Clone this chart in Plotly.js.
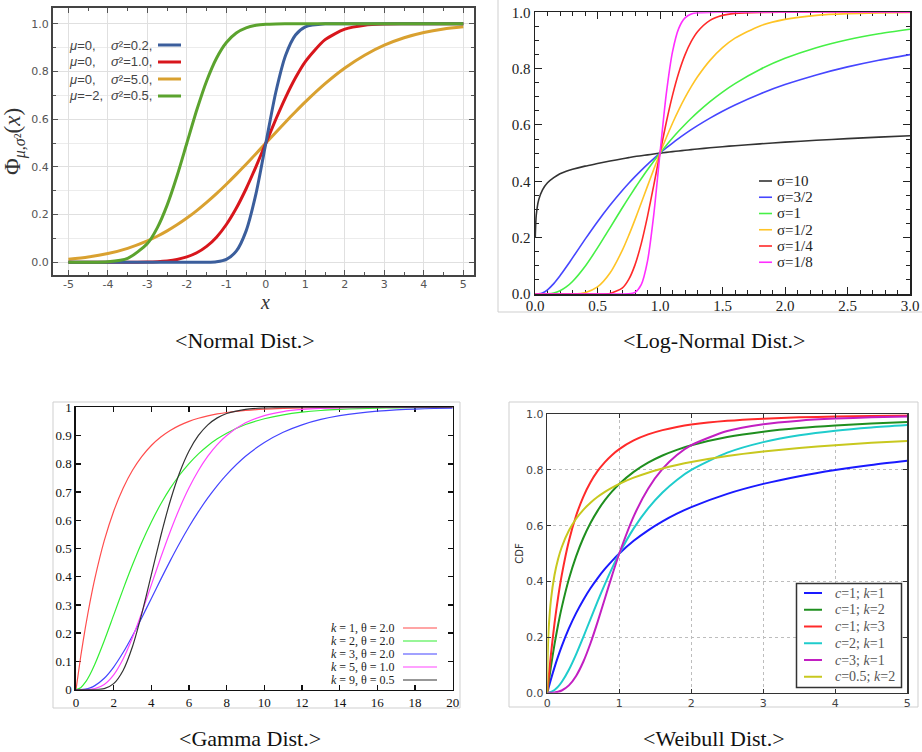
<!DOCTYPE html>
<html>
<head>
<meta charset="utf-8">
<script src="https://cdn.plot.ly/plotly-3.0.1.min.js"></script>
<style>html,body{margin:0;padding:0;background:#fff;}#chart{width:922px;height:752px;}</style>
</head>
<body>
<div id="chart"></div>
<script>
// ---------- Normal distribution CDF ----------
const normX = [-5,-4.5,-4,-3.5,-3,-2.75,-2.5,-2.25,-2,-1.75,-1.5,-1.25,-1,-0.75,-0.5,-0.25,0,0.25,0.5,0.75,1,1.5,2,2.5,3,3.5,4,4.5,5];
const normBlue   = [0,0,0,0,0,0,0,0,0,0,0.0004,0.0026,0.0127,0.0468,0.132,0.288,0.5,0.712,0.868,0.953,0.987,0.9996,1,1,1,1,1,1,1];
const normRed    = [0,0,0,0.0002,0.0013,0.003,0.0062,0.0122,0.0228,0.0401,0.0668,0.1056,0.1587,0.2266,0.3085,0.4013,0.5,0.5987,0.6915,0.7734,0.8413,0.9332,0.9772,0.9938,0.9987,0.9998,1,1,1];
const normOrange = [0.0127,0.0221,0.0368,0.0588,0.0899,0.1093,0.1318,0.1572,0.1855,0.2169,0.2512,0.288,0.3274,0.3687,0.4115,0.4555,0.5,0.5445,0.5885,0.6313,0.6726,0.7488,0.8145,0.8682,0.9101,0.9412,0.9632,0.9779,0.9873];
const normGreen  = [0,0.0002,0.0023,0.0169,0.0786,0.1444,0.2398,0.3618,0.5,0.6382,0.7602,0.8556,0.9214,0.9614,0.9831,0.9933,0.9977,0.9993,0.9998,1,1,1,1,1,1,1,1,1,1];
const normMuLabels  = ["μ=0,","μ=0,","μ=0,","μ=−2,"];
const normSigLabels = ["σ²=0.2,","σ²=1.0,","σ²=5.0,","σ²=0.5,"];
const normTickVals = [-5,-4,-3,-2,-1,0,1,2,3,4,5];
const normTickText = ["-5","-4","-3","-2","-1","0","1","2","3","4","5"];

// ---------- Log-normal distribution CDF ----------
const logX = [0.002,0.01,0.03,0.06,0.1,0.15,0.2,0.25,0.3,0.4,0.5,0.6,0.7,0.75,0.8,0.85,0.9,0.95,1,1.05,1.1,1.15,1.2,1.25,1.3,1.4,1.5,1.6,1.8,2,2.25,2.5,2.75,3];
const logS10 = [0.2,0.28,0.335,0.37,0.395,0.413,0.427,0.436,0.443,0.454,0.463,0.472,0.48,0.484,0.488,0.491,0.494,0.497,0.5,0.5028,0.5054,0.5079,0.5103,0.5126,0.5148,0.519,0.5229,0.5265,0.5331,0.539,0.5457,0.5516,0.5569,0.5617];
const logS32 = [0,0,0.0005,0.004,0.015,0.0369,0.0646,0.0956,0.1282,0.1938,0.2567,0.315,0.3683,0.3931,0.4167,0.4391,0.4604,0.4807,0.5,0.5183,0.5358,0.5524,0.5682,0.5833,0.5977,0.6245,0.6489,0.6712,0.7103,0.7433,0.7777,0.8062,0.8299,0.8498];
const logS1  = [0,0,0,0,0.0006,0.0036,0.0114,0.025,0.0443,0.0975,0.1635,0.235,0.307,0.3421,0.3762,0.4091,0.4408,0.4711,0.5,0.5275,0.5536,0.5784,0.6017,0.6238,0.6447,0.6829,0.7168,0.7469,0.7971,0.8365,0.8743,0.9025,0.9237,0.9399];
const logS12 = [0,0,0,0,0,0,0,0,0.0003,0.0048,0.025,0.0743,0.1565,0.2079,0.264,0.3229,0.3829,0.4423,0.5,0.5549,0.6063,0.6537,0.697,0.736,0.771,0.8294,0.8743,0.9081,0.9518,0.975,0.9891,0.9952,0.9979,0.9991];
const logS14 = [0,0,0,0,0,0,0,0,0,0,0,0.0019,0.0218,0.0518,0.1034,0.1789,0.2756,0.3858,0.5,0.6087,0.7051,0.7854,0.8488,0.8966,0.9312,0.9715,0.9891,0.9961,0.9996,1,1,1,1,1];
const logS18 = [0,0,0,0,0,0,0,0,0,0,0,0,0,0.0006,0.0058,0.033,0.1166,0.2809,0.5,0.7095,0.8596,0.9431,0.9804,0.9942,0.9985,0.9999,1,1,1,1,1,1,1,1];
const logLabels = ["σ=10","σ=3/2","σ=1","σ=1/2","σ=1/4","σ=1/8"];

// ---------- Gamma distribution CDF ----------
const gammaX = [0,0.25,0.5,0.75,1,1.5,2,2.5,3,3.5,4,4.5,5,5.5,6,6.5,7,7.5,8,9,10,11,12,13,14,15,16,17,18,19,20];
const gK1 = [0,0.1175,0.2212,0.3127,0.3935,0.5276,0.6321,0.7135,0.7769,0.8262,0.8647,0.8946,0.9179,0.9361,0.9502,0.9612,0.9698,0.9765,0.9817,0.9889,0.9933,0.9959,0.9975,0.9985,0.9991,0.9994,0.9997,0.9998,0.9999,0.9999,1];
const gK2 = [0,0.0072,0.0265,0.055,0.0902,0.1734,0.2642,0.3554,0.4422,0.5221,0.594,0.6575,0.7127,0.7603,0.8009,0.8352,0.8641,0.8883,0.9084,0.9389,0.9596,0.9734,0.9826,0.9887,0.9927,0.9953,0.997,0.9981,0.9988,0.9992,0.9995];
const gK3 = [0,0.0003,0.0022,0.0066,0.0144,0.0405,0.0803,0.1315,0.1912,0.256,0.3233,0.3907,0.4562,0.5185,0.5768,0.6304,0.6792,0.7229,0.7619,0.8264,0.8753,0.9116,0.938,0.957,0.9704,0.9797,0.9862,0.9907,0.9938,0.9958,0.9972];
const gK5 = [0,0,0.0002,0.0011,0.0037,0.0186,0.0527,0.1088,0.1847,0.2746,0.3712,0.4679,0.5595,0.6425,0.7149,0.7763,0.827,0.8679,0.9004,0.945,0.9707,0.9849,0.9924,0.9963,0.9982,0.9991,0.9996,0.9998,0.9999,1,1];
const gK9 = [0,0,0,0,0.0002,0.0038,0.0214,0.0681,0.1528,0.2709,0.4075,0.5443,0.6672,0.768,0.845,0.9002,0.9379,0.9626,0.978,0.9929,0.9979,0.9994,0.9998,1,1,1,1,1,1,1,1];
const gammaLabels = ["<i>k</i> = 1, θ = 2.0","<i>k</i> = 2, θ = 2.0","<i>k</i> = 3, θ = 2.0","<i>k</i> = 5, θ = 1.0","<i>k</i> = 9, θ = 0.5"];

// ---------- Weibull distribution CDF ----------
const wX = [0,0.001,0.005,0.01,0.02,0.05,0.1,0.15,0.2,0.3,0.4,0.5,0.6,0.7,0.8,0.9,1,1.2,1.4,1.6,1.8,2,2.5,3,3.5,4,4.5,5];
const wC1K1  = [0,0.001,0.005,0.0099,0.0196,0.0476,0.0909,0.1304,0.1667,0.2308,0.2857,0.3333,0.375,0.4118,0.4444,0.4737,0.5,0.5455,0.5833,0.6154,0.6429,0.6667,0.7143,0.75,0.7778,0.8,0.8182,0.8333];
const wC1K2  = [0,0.002,0.01,0.0197,0.0388,0.093,0.1736,0.2439,0.3056,0.4083,0.4898,0.5556,0.6094,0.654,0.6914,0.723,0.75,0.7934,0.8264,0.8521,0.8724,0.8889,0.9184,0.9375,0.9506,0.96,0.9669,0.9722];
const wC1K3  = [0,0.003,0.0149,0.0294,0.0577,0.1362,0.2487,0.3425,0.4213,0.5448,0.6356,0.7037,0.7559,0.7965,0.8285,0.8542,0.875,0.9061,0.9277,0.9431,0.9544,0.963,0.9767,0.9844,0.989,0.992,0.994,0.9954];
const wC2K1  = [0,0,0,0.0001,0.0004,0.0025,0.0099,0.022,0.0385,0.0826,0.1379,0.2,0.2647,0.3289,0.3902,0.4475,0.5,0.5902,0.6622,0.7191,0.7642,0.8,0.8621,0.9,0.9245,0.9412,0.9529,0.9615];
const wC3K1  = [0,0,0,0,0,0.0001,0.001,0.0034,0.0079,0.0263,0.0602,0.1111,0.1776,0.2554,0.3386,0.4216,0.5,0.6334,0.7329,0.8038,0.8536,0.8889,0.9398,0.9643,0.9772,0.9846,0.9891,0.9921];
const wC05K2 = [0,0.0603,0.1277,0.1736,0.2324,0.3321,0.4228,0.4804,0.5225,0.5825,0.6248,0.6569,0.6825,0.7036,0.7214,0.7367,0.75,0.7723,0.7902,0.8051,0.8176,0.8284,0.8499,0.866,0.8787,0.8889,0.8974,0.9045];
const wLabels = ["<i>c</i>=1; <i>k</i>=1","<i>c</i>=1; <i>k</i>=2","<i>c</i>=1; <i>k</i>=3","<i>c</i>=2; <i>k</i>=1","<i>c</i>=3; <i>k</i>=1","<i>c</i>=0.5; <i>k</i>=2"];

const captions = ["<Normal Dist.>","<Log-Normal Dist.>","<Gamma Dist.>","<Weibull Dist.>"];

// ---------- styling ----------
const W = 922, H = 752;
const px = v => v / W;
const py = v => 1 - v / H;
const SERIF = "Liberation Serif, Times New Roman, serif";
const SANS = "DejaVu Sans, sans-serif";
const LSANS = "Liberation Sans, Arial, sans-serif";

const normColors = ["#3b5e9c","#d8161c","#d9a130","#5ba32e"];
const logColors  = ["#333333","#4646ff","#46f046","#ffc426","#ff2a2a","#ff2eff"];
const gammaColors= ["#ff4d4d","#33ee33","#4444ff","#ff44ff","#333333"];
const wColors    = ["#1a1aff","#1f8f1f","#ff2a2a","#1fcccc","#c21fc2","#c8c81f"];

function tr(x, y, xa, ya, color, width, name) {
  return {x: x, y: y, xaxis: xa, yaxis: ya, type: "scatter", mode: "lines", name: name,
          line: {color: color, width: width, shape: "spline", smoothing: 0.7},
          showlegend: false, hoverinfo: "skip"};
}

const traces = [
  tr(normX, normOrange, "x", "y", normColors[2], 3, "n3"),
  tr(normX, normRed, "x", "y", normColors[1], 3, "n2"),
  tr(normX, normBlue, "x", "y", normColors[0], 3, "n1"),
  tr(normX, normGreen, "x", "y", normColors[3], 3, "n4"),

  tr(logX, logS10, "x2", "y2", logColors[0], 1.6, logLabels[0]),
  tr(logX, logS32, "x2", "y2", logColors[1], 1.6, logLabels[1]),
  tr(logX, logS1,  "x2", "y2", logColors[2], 1.6, logLabels[2]),
  tr(logX, logS12, "x2", "y2", logColors[3], 1.6, logLabels[3]),
  tr(logX, logS14, "x2", "y2", logColors[4], 1.6, logLabels[4]),
  tr(logX, logS18, "x2", "y2", logColors[5], 1.6, logLabels[5]),

  tr(gammaX, gK1, "x3", "y3", gammaColors[0], 1.2, "g1"),
  tr(gammaX, gK2, "x3", "y3", gammaColors[1], 1.2, "g2"),
  tr(gammaX, gK3, "x3", "y3", gammaColors[2], 1.2, "g3"),
  tr(gammaX, gK5, "x3", "y3", gammaColors[3], 1.2, "g5"),
  tr(gammaX, gK9, "x3", "y3", gammaColors[4], 1.2, "g9"),

  tr(wX, wC1K1,  "x4", "y4", wColors[0], 2, "w1"),
  tr(wX, wC1K2,  "x4", "y4", wColors[1], 2, "w2"),
  tr(wX, wC1K3,  "x4", "y4", wColors[2], 2, "w3"),
  tr(wX, wC2K1,  "x4", "y4", wColors[3], 2, "w4"),
  tr(wX, wC3K1,  "x4", "y4", wColors[4], 2, "w5"),
  tr(wX, wC05K2, "x4", "y4", wColors[5], 2, "w6"),
];

const shapes = [];
const annotations = [];

// outer light frames of the panel pictures
[[498, -5, 926, 312], [53, 402, 460, 708], [509, 402, 918, 707]].forEach(b => {
  shapes.push({type: "rect", xref: "paper", yref: "paper", x0: px(b[0]), x1: px(b[2]), y0: py(b[3]), y1: py(b[1]),
               line: {color: "#cfcfcf", width: 1}, layer: "below"});
});

// x-axis title of the normal panel
annotations.push({xref: "paper", yref: "paper", x: px(265), y: py(302), xanchor: "center", yanchor: "middle",
  text: "<i>x</i>", showarrow: false, borderpad: 0, font: {family: SERIF, size: 20, color: "#333"}});

// legend 1 (normal): text then line sample
normMuLabels.forEach((t, i) => {
  const yy = 45 + i * 17;
  annotations.push({xref: "paper", yref: "paper", x: px(67), y: py(yy), xanchor: "left", yanchor: "middle",
    text: "<i>" + t.replace("=", "</i>="), showarrow: false, font: {family: LSANS, size: 13, color: "#444"}});
  annotations.push({xref: "paper", yref: "paper", x: px(109), y: py(yy), xanchor: "left", yanchor: "middle",
    text: "<i>σ</i>" + normSigLabels[i].slice(1), showarrow: false, font: {family: LSANS, size: 13, color: "#444"}});
  shapes.push({type: "line", xref: "paper", yref: "paper", x0: px(158), x1: px(181), y0: py(yy), y1: py(yy),
    line: {color: normColors[i], width: 3}});
});

// legend 2 (log-normal): line sample then text
logLabels.forEach((t, i) => {
  const yy = 181 + i * 16.25;
  shapes.push({type: "line", xref: "paper", yref: "paper", x0: px(759), x1: px(772), y0: py(yy), y1: py(yy),
    line: {color: logColors[i], width: 1.6}});
  annotations.push({xref: "paper", yref: "paper", x: px(775), y: py(yy), xanchor: "left", yanchor: "middle",
    text: t, showarrow: false, font: {family: SERIF, size: 15, color: "#222"}});
});

// legend 3 (gamma): text then line sample
gammaLabels.forEach((t, i) => {
  const yy = 628 + i * 13;
  annotations.push({xref: "paper", yref: "paper", x: px(397), y: py(yy), xanchor: "right", yanchor: "middle",
    text: t, showarrow: false, font: {family: SERIF, size: 12, color: "#222"}});
  shapes.push({type: "line", xref: "paper", yref: "paper", x0: px(403), x1: px(437), y0: py(yy), y1: py(yy),
    line: {color: gammaColors[i], width: 1.2}});
});

// legend 4 (weibull): boxed, line then text
shapes.push({type: "rect", xref: "paper", yref: "paper", x0: px(796.5), x1: px(901.5), y0: py(687.5), y1: py(583.5),
  line: {color: "#333", width: 1.5}, fillcolor: "#fff"});
wLabels.forEach((t, i) => {
  const yy = 593 + i * 16.75;
  shapes.push({type: "line", xref: "paper", yref: "paper", x0: px(804), x1: px(822), y0: py(yy), y1: py(yy),
    line: {color: wColors[i], width: 2}});
  annotations.push({xref: "paper", yref: "paper", x: px(833), y: py(yy), xanchor: "left", yanchor: "middle",
    text: t, showarrow: false, font: {family: SERIF, size: 14, color: "#555"}});
});

// captions
[[245, 340], [714, 340], [250, 738], [714, 738]].forEach((p, i) => {
  annotations.push({xref: "paper", yref: "paper", x: px(p[0]), y: py(p[1]), xanchor: "center", yanchor: "middle",
    text: captions[i].replace("<", "&lt;").replace(">", "&gt;"), showarrow: false,
    font: {family: SERIF, size: 22, color: "#111"}});
});

const layout = {
  width: W, height: H,
  margin: {l: 0, r: 0, t: 0, b: 0},
  paper_bgcolor: "#ffffff", plot_bgcolor: "#ffffff",
  showlegend: false,
  shapes: shapes, annotations: annotations,

  xaxis: {domain: [px(53), px(474)], anchor: "y", range: [-5.39, 5.27],
    tickmode: "array", tickvals: normTickVals, ticktext: normTickText,
    ticks: "inside", ticklen: 5, tickcolor: "#555", tickwidth: 1,
    minor: {dtick: 0.5, tick0: 0, ticks: "inside", ticklen: 3, tickcolor: "#555", showgrid: false},
    showline: true, linecolor: "#444", linewidth: 2, mirror: "ticks",
    showgrid: true, gridcolor: "#e0e0e0", zeroline: false, ticklabelstandoff: -2,
    tickfont: {family: SANS, size: 11, color: "#555"}},
  yaxis: {domain: [py(275), py(8)], anchor: "x", range: [-0.053, 1.066],
    dtick: 0.2, tick0: 0, tickformat: ".1f",
    ticks: "inside", ticklen: 5, tickcolor: "#555",
    minor: {dtick: 0.1, tick0: 0, ticks: "inside", ticklen: 3, tickcolor: "#555", showgrid: true, gridcolor: "#ececec"},
    showline: true, linecolor: "#444", linewidth: 2, mirror: "ticks",
    showgrid: true, gridcolor: "#e0e0e0", zeroline: false,
    tickfont: {family: SANS, size: 11, color: "#555"},
    title: {text: "Φ<sub><i>μ</i>,<i>σ</i>²</sub>(<i>x</i>)", font: {family: SERIF, size: 23, color: "#333"}, standoff: 4}},

  xaxis2: {domain: [px(535), px(910)], anchor: "y2", range: [0, 3],
    dtick: 0.5, tick0: 0, tickformat: ".1f",
    ticks: "inside", ticklen: 7, tickcolor: "#222",
    minor: {dtick: 0.1, tick0: 0, ticks: "inside", ticklen: 4, tickcolor: "#222"},
    showline: true, linecolor: "#222", linewidth: 1.5, mirror: "ticks", layer: "below traces",
    showgrid: false, zeroline: false, ticklabelstandoff: -3,
    tickfont: {family: SERIF, size: 15, color: "#222"}},
  yaxis2: {domain: [py(294), py(12.3)], anchor: "x2", range: [0, 1],
    dtick: 0.2, tick0: 0, tickformat: ".1f",
    ticks: "inside", ticklen: 7, tickcolor: "#222",
    minor: {dtick: 0.05, tick0: 0, ticks: "inside", ticklen: 4, tickcolor: "#222"},
    showline: true, linecolor: "#222", linewidth: 1.5, mirror: "ticks", layer: "below traces",
    showgrid: false, zeroline: false,
    tickfont: {family: SERIF, size: 15, color: "#222"}},

  xaxis3: {domain: [px(76), px(452.7)], anchor: "y3", range: [0, 20],
    dtick: 2, tick0: 0,
    ticks: "inside", ticklen: 5, tickcolor: "#111", tickwidth: 1.5,
    showline: true, linecolor: "#111", linewidth: 1.6, mirror: "ticks", layer: "below traces",
    showgrid: false, zeroline: false,
    tickfont: {family: SERIF, size: 13, color: "#111"}},
  yaxis3: {domain: [py(689.7), py(407.3)], anchor: "x3", range: [0, 1],
    dtick: 0.1, tick0: 0,
    ticks: "inside", ticklen: 5, tickcolor: "#111", tickwidth: 1.5,
    showline: true, linecolor: "#111", linewidth: 1.6, mirror: "ticks", layer: "below traces",
    showgrid: false, zeroline: false,
    tickfont: {family: SERIF, size: 13, color: "#111"}},

  xaxis4: {domain: [px(547.3), px(907.3)], anchor: "y4", range: [0, 5],
    dtick: 1, tick0: 0,
    ticks: "inside", ticklen: 4, tickcolor: "#333",
    showline: true, linecolor: "#333", linewidth: 1.5, mirror: "ticks",
    showgrid: true, gridcolor: "#bdbdbd", griddash: "dot", zeroline: false,
    tickfont: {family: SANS, size: 11, color: "#444"}},
  yaxis4: {domain: [py(692.7), py(414.3)], anchor: "x4", range: [0, 1],
    dtick: 0.2, tick0: 0, tickformat: ".1f",
    ticks: "inside", ticklen: 4, tickcolor: "#333",
    showline: true, linecolor: "#333", linewidth: 1.5, mirror: "ticks",
    showgrid: true, gridcolor: "#bdbdbd", griddash: "dot", zeroline: false,
    tickfont: {family: SANS, size: 11, color: "#444"},
    title: {text: "CDF", font: {family: SANS, size: 10, color: "#333"}, standoff: 0}}
};

Plotly.newPlot("chart", traces, layout, {staticPlot: true, displayModeBar: false});
</script>
</body>
</html>
